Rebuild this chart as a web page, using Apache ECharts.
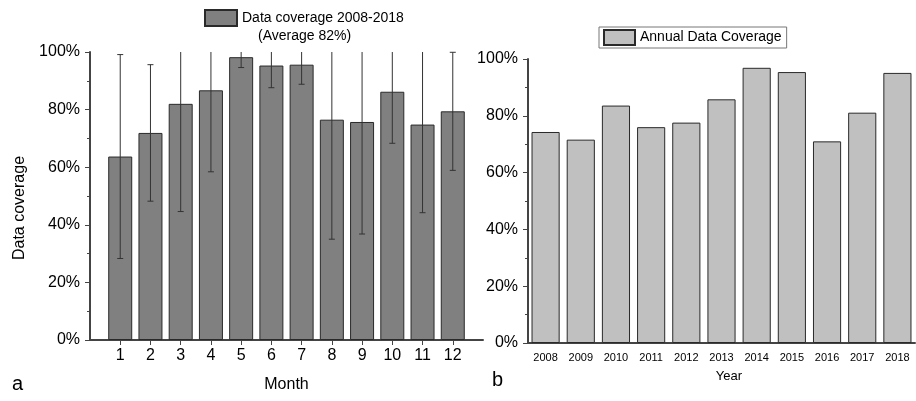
<!DOCTYPE html>
<html>
<head>
<meta charset="utf-8">
<script src="https://cdn.jsdelivr.net/npm/echarts@6/dist/echarts.min.js"></script>
<style>
  html, body { margin: 0; padding: 0; background: #fff; }
  #main { width: 916px; height: 401px; }
</style>
</head>
<body>
<div id="main"></div>
<script>
var months = [1, 2, 3, 4, 5, 6, 7, 8, 9, 10, 11, 12];
var monthly = [63.7, 71.9, 82.0, 86.7, 98.2, 95.3, 95.6, 76.5, 75.7, 86.2, 74.8, 79.4];
// half length of the error bar (same up and down)
var monthlyErr = [35.4, 23.7, 37.4, 28.3, 3.6, 7.7, 6.8, 41.5, 38.9, 17.9, 30.6, 20.5];

var years = ['2008', '2009', '2010', '2011', '2012', '2013', '2014', '2015', '2016', '2017', '2018'];
var annual = [74.3, 71.6, 83.6, 76.0, 77.6, 85.8, 96.9, 95.4, 71.0, 81.1, 95.1];

var font = '"Liberation Sans", Arial, sans-serif';
var axisColor = '#444';

var myChart = echarts.init(document.getElementById('main'));

myChart.setOption({
    textStyle: { fontFamily: font, color: '#000' },
    animation: false,
    legend: [{
        data: ['Data coverage 2008-2018'],
        left: 204, top: 9,
        padding: 0,
        icon: 'rect',
        itemWidth: 32, itemHeight: 16,
        textStyle: { fontSize: 14, color: '#000', fontFamily: font }
    }, {
        data: ['Annual Data Coverage'],
        left: 599, top: 27,
        padding: [2, 5, 2, 4],
        borderColor: '#777', borderWidth: 1,
        icon: 'rect',
        itemWidth: 31, itemHeight: 15,
        textStyle: { fontSize: 14, color: '#000', fontFamily: font, lineHeight: 15 }
    }],
    graphic: [
        { type: 'text', left: 258, top: 29, style: { text: '(Average 82%)', font: '14px ' + font, fill: '#000' } },
        { type: 'text', left: 12, top: 374, style: { text: 'a', font: '20px ' + font, fill: '#000' } },
        { type: 'text', left: 492, top: 370, style: { text: 'b', font: '20px ' + font, fill: '#000' } }
    ],
    grid: [
        { left: 90, top: 52, width: 393, height: 288 },
        { left: 528, top: 59, width: 387, height: 284 }
    ],
    xAxis: [{
        gridIndex: 0,
        type: 'value',
        min: 0, max: 13, interval: 1,
        splitLine: { show: false },
        axisLine: { lineStyle: { color: axisColor, width: 2 } },
        axisTick: { length: 5, customValues: months, lineStyle: { color: axisColor } },
        axisLabel: { customValues: months, fontSize: 16, color: '#000', margin: 8 },
        name: 'Month', nameLocation: 'middle', nameGap: 37,
        nameTextStyle: { fontSize: 16, color: '#000' }
    }, {
        gridIndex: 1,
        type: 'category',
        data: years,
        axisLine: { lineStyle: { color: axisColor, width: 2 } },
        axisTick: { alignWithLabel: true, length: 5, lineStyle: { color: axisColor } },
        axisLabel: { interval: 0, fontSize: 11, color: '#000', margin: 9 },
        name: 'Year', nameLocation: 'middle', nameGap: 27,
        nameTextStyle: { fontSize: 13, color: '#000', padding: [0, 0, 0, 15] }
    }, {
        // boundary ticks between the years
        gridIndex: 1,
        type: 'category',
        data: years,
        position: 'bottom',
        axisLine: { show: false },
        axisTick: { length: 3, lineStyle: { color: axisColor } },
        axisLabel: { show: false }
    }],
    yAxis: [{
        gridIndex: 0,
        type: 'value',
        min: 0, max: 100, interval: 20,
        splitLine: { show: false },
        axisLine: { show: true, lineStyle: { color: axisColor, width: 2 } },
        axisTick: { show: true, length: 5, lineStyle: { color: axisColor } },
        minorTick: { show: true, splitNumber: 2, length: 3, lineStyle: { color: axisColor } },
        axisLabel: { formatter: '{value}%', fontSize: 16, color: '#000', margin: 10 },
        name: 'Data coverage', nameLocation: 'middle', nameGap: 62,
        nameTextStyle: { fontSize: 16, color: '#000', padding: [0, 24, 0, 0] }
    }, {
        gridIndex: 1,
        type: 'value',
        min: 0, max: 100, interval: 20,
        splitLine: { show: false },
        axisLine: { show: true, lineStyle: { color: axisColor, width: 2 } },
        axisTick: { show: true, length: 5, lineStyle: { color: axisColor } },
        minorTick: { show: true, splitNumber: 2, length: 3, lineStyle: { color: axisColor } },
        axisLabel: { formatter: '{value}%', fontSize: 16, color: '#000', margin: 10 }
    }],
    series: [{
        name: 'Data coverage 2008-2018',
        type: 'bar',
        xAxisIndex: 0, yAxisIndex: 0,
        barWidth: 24,
        data: months.map(function (m, i) { return [m, monthly[i]]; }),
        itemStyle: { color: '#808080', borderColor: '#2a2a2a', borderWidth: 1 }
    }, {
        type: 'custom',
        xAxisIndex: 0, yAxisIndex: 0,
        z: 5,
        data: months.map(function (m, i) { return [m, monthly[i], monthlyErr[i]]; }),
        renderItem: function (params, api) {
            var x = api.value(0), v = api.value(1), e = api.value(2);
            var top = Math.min(v + e, 100);
            var pTop = api.coord([x, top]);
            var pLow = api.coord([x, v - e]);
            var style = { stroke: '#333', lineWidth: 1 };
            var kids = [
                { type: 'line', shape: { x1: pTop[0], y1: pTop[1], x2: pLow[0], y2: pLow[1] }, style: style },
                { type: 'line', shape: { x1: pLow[0] - 3, y1: pLow[1], x2: pLow[0] + 3, y2: pLow[1] }, style: style }
            ];
            if (v + e <= 100.5) {
                kids.push({ type: 'line', shape: { x1: pTop[0] - 3, y1: pTop[1], x2: pTop[0] + 3, y2: pTop[1] }, style: style });
            }
            return { type: 'group', children: kids };
        }
    }, {
        name: 'Annual Data Coverage',
        type: 'bar',
        xAxisIndex: 1, yAxisIndex: 1,
        barCategoryGap: '20%',
        data: annual,
        itemStyle: { color: '#c0c0c0', borderColor: '#2a2a2a', borderWidth: 1 }
    }]
});
</script>
</body>
</html>
